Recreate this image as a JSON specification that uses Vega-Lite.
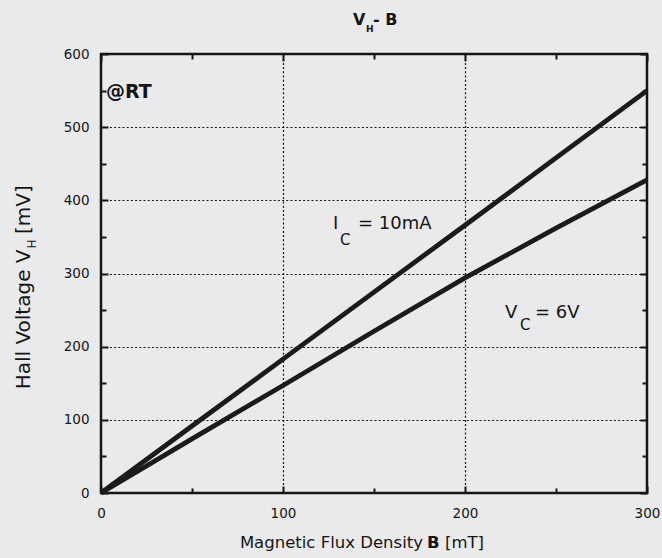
{
  "$schema": "https://vega.github.io/schema/vega-lite/v6.json",
  "width": 546,
  "height": 439,
  "autosize": {"type": "none"},
  "padding": {"left": 101, "top": 54, "right": 15, "bottom": 65},
  "background": "#eaeaec",
  "config": {
    "view": {"stroke": "#151515", "strokeWidth": 2.5, "fill": "#eaeaec"},
    "font": "DejaVu Sans"
  },
  "datasets": {
    "curves": [
      {"series": "Ic", "B": 0, "V": 0},
      {"series": "Ic", "B": 50, "V": 91.5},
      {"series": "Ic", "B": 100, "V": 183},
      {"series": "Ic", "B": 150, "V": 274.5},
      {"series": "Ic", "B": 200, "V": 366},
      {"series": "Ic", "B": 250, "V": 458},
      {"series": "Ic", "B": 300, "V": 550},
      {"series": "Vc", "B": 0, "V": 0},
      {"series": "Vc", "B": 50, "V": 74},
      {"series": "Vc", "B": 100, "V": 147},
      {"series": "Vc", "B": 150, "V": 221},
      {"series": "Vc", "B": 200, "V": 294},
      {"series": "Vc", "B": 250, "V": 362},
      {"series": "Vc", "B": 300, "V": 428}
    ],
    "labels": [
      {"role": "title", "t": "V", "B": 138.5, "V": 639.6},
      {"role": "titlesub", "t": "H", "B": 145.6, "V": 630},
      {"role": "title", "t": "- B", "B": 149.5, "V": 639.6},
      {"role": "rt", "t": "@RT", "B": 2.7, "V": 540},
      {"role": "ann", "t": "I", "B": 127.5, "V": 360.8},
      {"role": "annsub", "t": "C", "B": 131.3, "V": 339},
      {"role": "ann", "t": "= 10mA", "B": 141.2, "V": 360.8},
      {"role": "ann", "t": "V", "B": 222, "V": 239.2},
      {"role": "annsub", "t": "C", "B": 230.2, "V": 222.8},
      {"role": "ann", "t": "= 6V", "B": 238.5, "V": 239.2},
      {"role": "xt_a", "t": "Magnetic Flux Density", "B": 176.9, "V": -75.2},
      {"role": "xt_b", "t": "B", "B": 179.1, "V": -75.2},
      {"role": "xt_c", "t": "[mT]", "B": 189, "V": -75.2},
      {"role": "yt_a", "t": "Hall Voltage V", "B": -39, "V": 332.8},
      {"role": "yt_sub", "t": "H", "B": -35.7, "V": 334.2},
      {"role": "yt_c", "t": "[mV]", "B": -39, "V": 354}
    ]
  },
  "layer": [
    {
      "data": {"name": "curves"},
      "mark": {"type": "line", "strokeWidth": 4.8, "color": "#1b1b1b"},
      "encoding": {
        "x": {
          "field": "B", "type": "quantitative",
          "scale": {"domain": [0, 300], "nice": false},
          "axis": {
            "orient": "bottom", "title": null,
            "values": [0, 50, 100, 150, 200, 250, 300],
            "labelExpr": "datum.value % 100 == 0 ? datum.label : ''",
            "domain": false, "ticks": true, "tickColor": "#151515", "tickWidth": 2,
            "tickSize": {"condition": {"test": "datum.value % 100 == 0", "value": -7}, "value": -5},
            "grid": true, "gridColor": "#151515", "gridDash": [2, 2.2], "gridWidth": 1.2,
            "gridOpacity": {"condition": {"test": "datum.value % 100 == 0 && datum.value > 0 && datum.value < 300", "value": 1}, "value": 0},
            "labelFontSize": 13.5, "labelColor": "#151515", "labelPadding": 20,
            "labelFont": "DejaVu Sans", "labelFlush": false, "labelOverlap": false, "labelBound": false
          }
        },
        "y": {
          "field": "V", "type": "quantitative",
          "scale": {"domain": [0, 600], "nice": false},
          "axis": {
            "orient": "left", "title": null,
            "values": [0, 50, 100, 150, 200, 250, 300, 350, 400, 450, 500, 550, 600],
            "labelExpr": "datum.value % 100 == 0 ? datum.label : ''",
            "domain": false, "ticks": true, "tickColor": "#151515", "tickWidth": 2,
            "tickSize": {"condition": {"test": "datum.value % 100 == 0", "value": -7}, "value": -5},
            "grid": true, "gridColor": "#151515", "gridDash": [2, 2.2], "gridWidth": 1.2,
            "gridOpacity": {"condition": {"test": "datum.value % 100 == 0 && datum.value > 0 && datum.value < 600", "value": 1}, "value": 0},
            "labelFontSize": 13.5, "labelColor": "#151515", "labelPadding": 19,
            "labelFont": "DejaVu Sans", "labelFlush": false, "labelOverlap": false, "labelBound": false
          }
        },
        "detail": {"field": "series"}
      }
    },
    {
      "data": {"name": "curves"},
      "mark": {"type": "line", "opacity": 0},
      "encoding": {
        "x": {
          "field": "B", "type": "quantitative",
          "scale": {"domain": [0, 300], "nice": false},
          "axis": {
            "orient": "top", "title": null, "labels": false,
            "values": [0, 50, 100, 150, 200, 250, 300],
            "domain": false, "ticks": true, "tickColor": "#151515", "tickWidth": 2,
            "tickSize": {"condition": {"test": "datum.value % 100 == 0", "value": -7}, "value": -5},
            "grid": false
          }
        },
        "y": {
          "field": "V", "type": "quantitative",
          "scale": {"domain": [0, 600], "nice": false},
          "axis": {
            "orient": "right", "title": null, "labels": false,
            "values": [0, 50, 100, 150, 200, 250, 300, 350, 400, 450, 500, 550, 600],
            "domain": false, "ticks": true, "tickColor": "#151515", "tickWidth": 2,
            "tickSize": {"condition": {"test": "datum.value % 100 == 0", "value": -7}, "value": -5},
            "grid": false
          }
        },
        "detail": {"field": "series"}
      }
    },
    {
      "data": {"name": "labels"},
      "transform": [{"filter": "datum.role == 'title'"}],
      "mark": {"type": "text", "align": "left", "baseline": "alphabetic", "fontSize": 16, "fontWeight": "bold", "color": "#151515", "font": "DejaVu Sans"},
      "encoding": {
        "x": {"field": "B", "type": "quantitative", "scale": {"domain": [0, 300], "nice": false}, "axis": null},
        "y": {"field": "V", "type": "quantitative", "scale": {"domain": [0, 600], "nice": false}, "axis": null},
        "text": {"field": "t"}
      }
    },
    {
      "data": {"name": "labels"},
      "transform": [{"filter": "datum.role == 'titlesub'"}],
      "mark": {"type": "text", "align": "left", "baseline": "alphabetic", "fontSize": 9, "fontWeight": "bold", "color": "#151515", "font": "DejaVu Sans"},
      "encoding": {
        "x": {"field": "B", "type": "quantitative", "scale": {"domain": [0, 300], "nice": false}, "axis": null},
        "y": {"field": "V", "type": "quantitative", "scale": {"domain": [0, 600], "nice": false}, "axis": null},
        "text": {"field": "t"}
      }
    },
    {
      "data": {"name": "labels"},
      "transform": [{"filter": "datum.role == 'rt'"}],
      "mark": {"type": "text", "align": "left", "baseline": "alphabetic", "fontSize": 19, "fontWeight": "bold", "color": "#151515", "font": "DejaVu Sans"},
      "encoding": {
        "x": {"field": "B", "type": "quantitative", "scale": {"domain": [0, 300], "nice": false}, "axis": null},
        "y": {"field": "V", "type": "quantitative", "scale": {"domain": [0, 600], "nice": false}, "axis": null},
        "text": {"field": "t"}
      }
    },
    {
      "data": {"name": "labels"},
      "transform": [{"filter": "datum.role == 'ann'"}],
      "mark": {"type": "text", "align": "left", "baseline": "alphabetic", "fontSize": 18, "color": "#151515", "font": "DejaVu Sans"},
      "encoding": {
        "x": {"field": "B", "type": "quantitative", "scale": {"domain": [0, 300], "nice": false}, "axis": null},
        "y": {"field": "V", "type": "quantitative", "scale": {"domain": [0, 600], "nice": false}, "axis": null},
        "text": {"field": "t"}
      }
    },
    {
      "data": {"name": "labels"},
      "transform": [{"filter": "datum.role == 'annsub'"}],
      "mark": {"type": "text", "align": "left", "baseline": "alphabetic", "fontSize": 15, "color": "#151515", "font": "DejaVu Sans"},
      "encoding": {
        "x": {"field": "B", "type": "quantitative", "scale": {"domain": [0, 300], "nice": false}, "axis": null},
        "y": {"field": "V", "type": "quantitative", "scale": {"domain": [0, 600], "nice": false}, "axis": null},
        "text": {"field": "t"}
      }
    },
    {
      "data": {"name": "labels"},
      "transform": [{"filter": "datum.role == 'xt_a'"}],
      "mark": {"type": "text", "align": "right", "baseline": "alphabetic", "fontSize": 16.5, "color": "#151515", "font": "DejaVu Sans"},
      "encoding": {
        "x": {"field": "B", "type": "quantitative", "scale": {"domain": [0, 300], "nice": false}, "axis": null},
        "y": {"field": "V", "type": "quantitative", "scale": {"domain": [0, 600], "nice": false}, "axis": null},
        "text": {"field": "t"}
      }
    },
    {
      "data": {"name": "labels"},
      "transform": [{"filter": "datum.role == 'xt_b'"}],
      "mark": {"type": "text", "align": "left", "baseline": "alphabetic", "fontSize": 16.5, "fontWeight": "bold", "color": "#151515", "font": "DejaVu Sans"},
      "encoding": {
        "x": {"field": "B", "type": "quantitative", "scale": {"domain": [0, 300], "nice": false}, "axis": null},
        "y": {"field": "V", "type": "quantitative", "scale": {"domain": [0, 600], "nice": false}, "axis": null},
        "text": {"field": "t"}
      }
    },
    {
      "data": {"name": "labels"},
      "transform": [{"filter": "datum.role == 'xt_c'"}],
      "mark": {"type": "text", "align": "left", "baseline": "alphabetic", "fontSize": 16.5, "color": "#151515", "font": "DejaVu Sans"},
      "encoding": {
        "x": {"field": "B", "type": "quantitative", "scale": {"domain": [0, 300], "nice": false}, "axis": null},
        "y": {"field": "V", "type": "quantitative", "scale": {"domain": [0, 600], "nice": false}, "axis": null},
        "text": {"field": "t"}
      }
    },
    {
      "data": {"name": "labels"},
      "transform": [{"filter": "datum.role == 'yt_a'"}],
      "mark": {"type": "text", "align": "right", "baseline": "alphabetic", "angle": 270, "fontSize": 20, "color": "#151515", "font": "DejaVu Sans"},
      "encoding": {
        "x": {"field": "B", "type": "quantitative", "scale": {"domain": [0, 300], "nice": false}, "axis": null},
        "y": {"field": "V", "type": "quantitative", "scale": {"domain": [0, 600], "nice": false}, "axis": null},
        "text": {"field": "t"}
      }
    },
    {
      "data": {"name": "labels"},
      "transform": [{"filter": "datum.role == 'yt_sub'"}],
      "mark": {"type": "text", "align": "left", "baseline": "alphabetic", "angle": 270, "fontSize": 12, "color": "#151515", "font": "DejaVu Sans"},
      "encoding": {
        "x": {"field": "B", "type": "quantitative", "scale": {"domain": [0, 300], "nice": false}, "axis": null},
        "y": {"field": "V", "type": "quantitative", "scale": {"domain": [0, 600], "nice": false}, "axis": null},
        "text": {"field": "t"}
      }
    },
    {
      "data": {"name": "labels"},
      "transform": [{"filter": "datum.role == 'yt_c'"}],
      "mark": {"type": "text", "align": "left", "baseline": "alphabetic", "angle": 270, "fontSize": 20, "color": "#151515", "font": "DejaVu Sans"},
      "encoding": {
        "x": {"field": "B", "type": "quantitative", "scale": {"domain": [0, 300], "nice": false}, "axis": null},
        "y": {"field": "V", "type": "quantitative", "scale": {"domain": [0, 600], "nice": false}, "axis": null},
        "text": {"field": "t"}
      }
    }
  ],
  "resolve": {"axis": {"x": "independent", "y": "independent"}}
}
